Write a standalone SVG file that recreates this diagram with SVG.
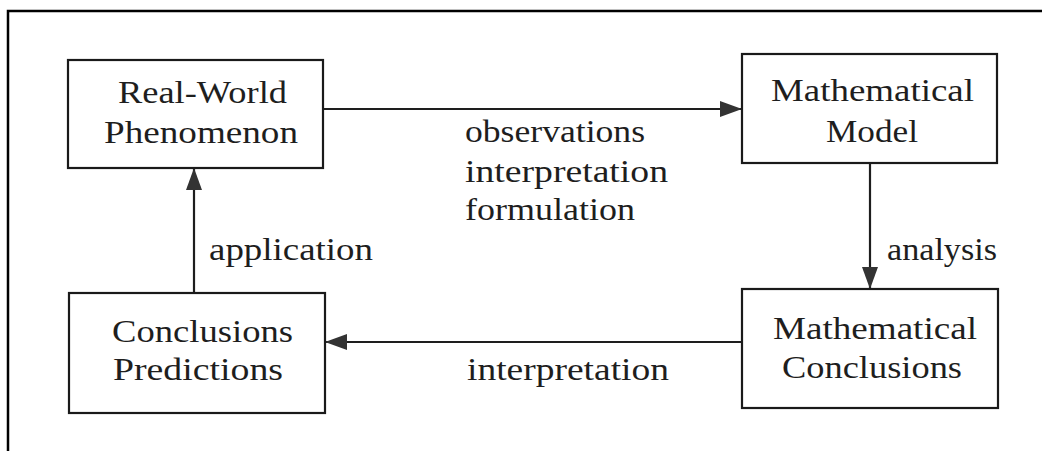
<svg xmlns="http://www.w3.org/2000/svg" width="1042" height="451" viewBox="0 0 1042 451">
<style>
.box{fill:#fff;stroke:#1a1a1a;stroke-width:2.2}
.t{font-family:"Liberation Serif","Times New Roman",serif;font-size:31px;fill:#1e1e1e}
.c{stroke:#1e1e1e;stroke-width:2.2;fill:none}
.frame{stroke:#000;stroke-width:2.5;fill:none}
</style>
<defs>
<marker id="ah" markerWidth="22" markerHeight="18" refX="21" refY="9" orient="auto" markerUnits="userSpaceOnUse">
<path d="M0,1 L22,9 L0,17 Z" fill="#333"/>
</marker>
</defs>
<rect width="1042" height="451" fill="#fff"/>
<path class="frame" d="M8,451 V11 H1042"/>
<g id="connectors">
<line class="c" x1="324" y1="109" x2="741" y2="109" marker-end="url(#ah)"/>
<line class="c" x1="870" y1="163" x2="870" y2="288" marker-end="url(#ah)"/>
<line class="c" x1="742" y1="342" x2="326" y2="342" marker-end="url(#ah)"/>
<line class="c" x1="194" y1="293" x2="194" y2="169" marker-end="url(#ah)"/>
<text class="t" x="465" y="142" textLength="180" lengthAdjust="spacingAndGlyphs">observations</text>
<text class="t" x="465" y="182" textLength="203" lengthAdjust="spacingAndGlyphs">interpretation</text>
<text class="t" x="465" y="220" textLength="170" lengthAdjust="spacingAndGlyphs">formulation</text>
<text class="t" x="887" y="260" textLength="110" lengthAdjust="spacingAndGlyphs">analysis</text>
<text class="t" x="467" y="380" textLength="202" lengthAdjust="spacingAndGlyphs">interpretation</text>
<text class="t" x="209" y="260" textLength="164" lengthAdjust="spacingAndGlyphs">application</text>
</g>
<g id="real-world">
<rect class="box" x="68" y="60" width="255" height="108"/>
<text class="t" x="118" y="103" textLength="169" lengthAdjust="spacingAndGlyphs">Real-World</text>
<text class="t" x="104" y="143" textLength="194" lengthAdjust="spacingAndGlyphs">Phenomenon</text>
</g>
<g id="math-model">
<rect class="box" x="742" y="54" width="255" height="109"/>
<text class="t" x="771" y="101" textLength="203" lengthAdjust="spacingAndGlyphs">Mathematical</text>
<text class="t" x="826" y="142" textLength="92" lengthAdjust="spacingAndGlyphs">Model</text>
</g>
<g id="math-conclusions">
<rect class="box" x="742" y="289" width="256" height="119"/>
<text class="t" x="773" y="339" textLength="204" lengthAdjust="spacingAndGlyphs">Mathematical</text>
<text class="t" x="782" y="378" textLength="180" lengthAdjust="spacingAndGlyphs">Conclusions</text>
</g>
<g id="conclusions-predictions">
<rect class="box" x="69" y="293" width="256" height="120"/>
<text class="t" x="112" y="342" textLength="181" lengthAdjust="spacingAndGlyphs">Conclusions</text>
<text class="t" x="113" y="380" textLength="170" lengthAdjust="spacingAndGlyphs">Predictions</text>
</g>
</svg>
